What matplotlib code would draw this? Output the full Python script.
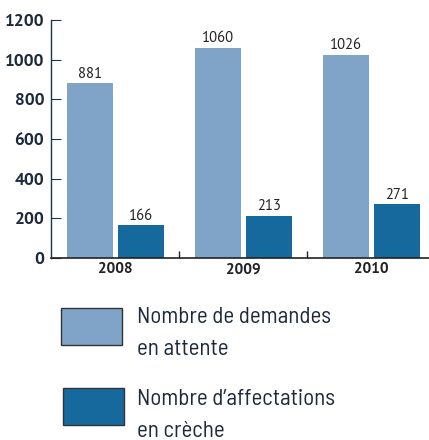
import numpy as np
import matplotlib
matplotlib.use("Agg")
import matplotlib.pyplot as plt
from matplotlib.patches import Rectangle

# données
years = ["2008", "2009", "2010"]
demandes = [881, 1060, 1026]
affectations = [166, 213, 271]
labels = [["Nombre de demandes", "en attente"],
          ["Nombre d\u2019affectations", "en crèche"]]
colors = ["#7fa4c7", "#16699d"]
yticks = [0, 200, 400, 600, 800, 1000, 1200]

TXT = "#1e2a3c"
NUM = ["PT Sans", "DejaVu Sans"]
COND = ["Barlow Semi Condensed", "Barlow Condensed", "DejaVu Sans"]

fig = plt.figure(figsize=(4.29, 4.40), dpi=100)
ax = fig.add_axes([51 / 429, 1 - 258 / 440, 1 - 51 / 429, 238 / 440])

x = np.arange(len(years))
w = 0.36
off = 0.2
b1 = ax.bar(x - off, demandes, w, color=colors[0])
b2 = ax.bar(x + off, affectations, w, color=colors[1])
for bars, vals in [(b1, demandes), (b2, affectations)]:
    for r, v in zip(bars, vals):
        ax.text(r.get_x() + r.get_width() / 2, v + 12, str(v), family=NUM,
                ha="center", va="bottom", fontsize=10.5, color="#222222")

ax.set_xlim(-0.504, 2.45)
ax.set_ylim(0, 1200)
ax.set_yticks(yticks)
ax.set_yticklabels([str(t) for t in yticks], fontsize=12.5, fontweight="bold",
                   color=TXT, family=NUM)
ax.tick_params(axis="y", direction="in", length=7, width=0.8, color="#1a3550", pad=5)
ax.set_xticks(x)
ax.set_xticklabels(years, fontsize=11, fontweight="bold", color="#222222", family=NUM)
ax.tick_params(axis="x", length=0, pad=3)
ax.set_xticks([0.5, 1.5], minor=True)
ax.tick_params(axis="x", which="minor", direction="in", length=5, width=1, color="#222222")

for s in ["top", "right"]:
    ax.spines[s].set_visible(False)
ax.spines["left"].set_color("#1a3550")
ax.spines["bottom"].set_color("#222222")
ax.spines["left"].set_linewidth(1)
ax.spines["bottom"].set_linewidth(1.2)

# légende
box_tops = [308, 388]
box_left = [61, 63]
baselines = [[323, 355], [405, 437]]
for i, (lab, c) in enumerate(zip(labels, colors)):
    top = box_tops[i]
    fig.patches.append(Rectangle((box_left[i] / 429, 1 - (top + 37) / 440), 61 / 429, 37 / 440,
                                 transform=fig.transFigure, facecolor=c,
                                 edgecolor="#333333", linewidth=1))
    for line, yb in zip(lab, baselines[i]):
        fig.text(137 / 429, 1 - yb / 440, line, ha="left", va="baseline",
                 fontsize=16.5, color=TXT, family=COND)

fig.savefig("out.png", dpi=100)
